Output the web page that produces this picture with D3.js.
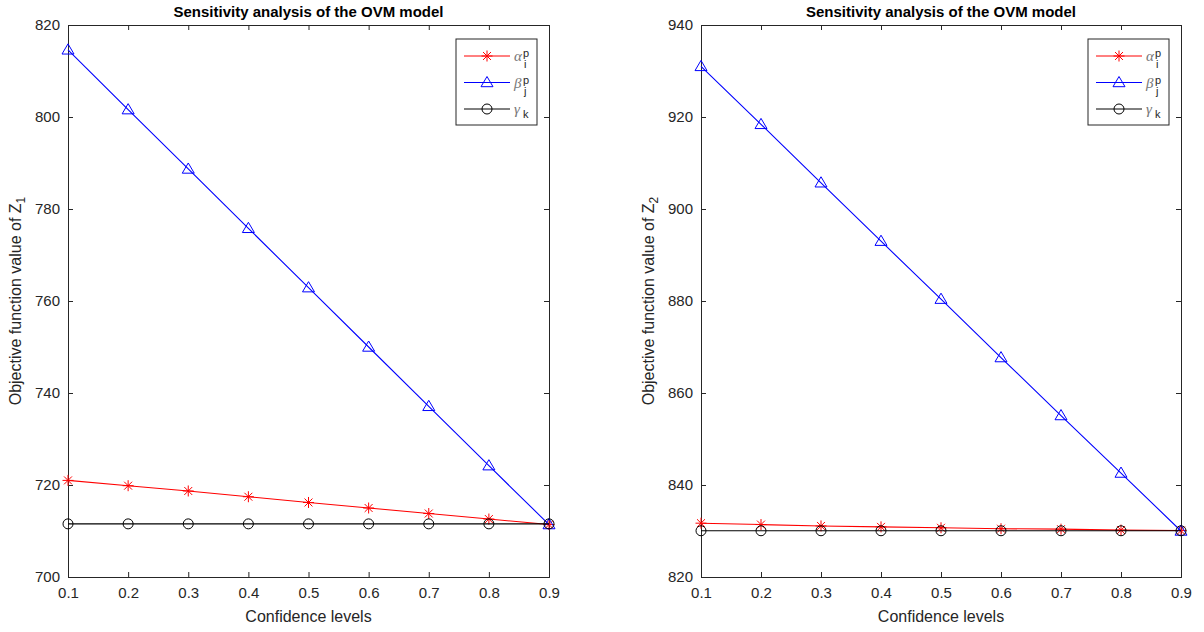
<!DOCTYPE html>
<html>
<head>
<meta charset="utf-8">
<script src="https://cdn.jsdelivr.net/npm/d3@7"></script>
<style>
  body { margin: 0; background: #fff; }
  text { font-family: "Liberation Sans", Arial, sans-serif; }
</style>
</head>
<body>
<div id="chart"></div>
<script>
// confidence levels on the x axis
const levels = [0.1, 0.2, 0.3, 0.4, 0.5, 0.6, 0.7, 0.8, 0.9];

// Z1 series
const alphaZ1 = [721.0, 719.85, 718.7, 717.45, 716.2, 715.0, 713.8, 712.6, 711.4];
const betaZ1  = [814.6, 801.6, 788.7, 775.8, 762.9, 750.0, 737.1, 724.2, 711.4];
const gammaZ1 = [711.55, 711.55, 711.55, 711.55, 711.55, 711.55, 711.55, 711.55, 711.55];

// Z2 series
const alphaZ2 = [831.7, 831.4, 831.1, 830.9, 830.7, 830.5, 830.4, 830.2, 830.1];
const betaZ2  = [931.0, 918.4, 905.7, 893.0, 880.4, 867.7, 855.1, 842.6, 830.0];
const gammaZ2 = [830.05, 830.05, 830.05, 830.05, 830.05, 830.05, 830.05, 830.05, 830.05];

const yTicksZ1 = [700, 720, 740, 760, 780, 800, 820];
const yTicksZ2 = [820, 840, 860, 880, 900, 920, 940];

const W = 1204, H = 632;
const axisColor = "#262626";

const svg = d3.select("#chart").append("svg")
    .attr("width", W).attr("height", H);

const panels = [
  {x0: 68, x1: 549, sub: "1", ticks: yTicksZ1, series: [alphaZ1, betaZ1, gammaZ1]},
  {x0: 701, x1: 1181, sub: "2", ticks: yTicksZ2, series: [alphaZ2, betaZ2, gammaZ2]}
];
const plotTop = 25, plotBottom = 577;

const styles = [
  {color: "#ff0000", marker: "star"},
  {color: "#0000ff", marker: "tri"},
  {color: "#000000", marker: "circle"}
];

function drawMarker(g, type, color, cx, cy) {
  if (type === "star") {
    const s = 5.5, d = s * 0.72;
    const p = `M${cx - s},${cy}L${cx + s},${cy}M${cx},${cy - s}L${cx},${cy + s}` +
              `M${cx - d},${cy - d}L${cx + d},${cy + d}M${cx - d},${cy + d}L${cx + d},${cy - d}`;
    g.append("path").attr("d", p).attr("stroke", color).attr("stroke-width", 1).attr("fill", "none");
  } else if (type === "tri") {
    const s = 6;
    g.append("path")
      .attr("d", `M${cx},${cy - s}L${cx + s},${cy + s * 0.7}L${cx - s},${cy + s * 0.7}Z`)
      .attr("stroke", color).attr("stroke-width", 1).attr("fill", "none");
  } else {
    g.append("circle").attr("cx", cx).attr("cy", cy).attr("r", 5)
      .attr("stroke", color).attr("stroke-width", 1).attr("fill", "none");
  }
}

panels.forEach(p => {
  const x = d3.scaleLinear().domain([0.1, 0.9]).range([p.x0, p.x1]);
  const y = d3.scaleLinear().domain([p.ticks[0], p.ticks[p.ticks.length - 1]]).range([plotBottom, plotTop]);
  const g = svg.append("g");

  // axes (MATLAB style box with inward ticks)
  const fmtX = d3.format(".1f");
  const xAxisB = d3.axisBottom(x).tickValues(levels).tickSize(-5).tickPadding(10).tickFormat(fmtX);
  const xAxisT = d3.axisTop(x).tickValues(levels).tickSize(-5).tickFormat("");
  const yAxisL = d3.axisLeft(y).tickValues(p.ticks).tickSize(-5).tickPadding(8).tickFormat(d3.format("d"));
  const yAxisR = d3.axisRight(y).tickValues(p.ticks).tickSize(-5).tickFormat("");

  [[xAxisB, `translate(0,${plotBottom})`], [xAxisT, `translate(0,${plotTop})`],
   [yAxisL, `translate(${p.x0},0)`], [yAxisR, `translate(${p.x1},0)`]].forEach(([ax, tr]) => {
    const a = g.append("g").attr("transform", tr).call(ax);
    a.select(".domain").attr("stroke", axisColor);
    a.selectAll(".tick line").attr("stroke", axisColor);
    a.selectAll(".tick text").attr("fill", axisColor).style("font-size", "15px")
      .style("font-family", "'Liberation Sans', Arial, sans-serif");
  });

  // lines + markers
  const line = d3.line().x((d, i) => x(levels[i])).y(d => y(d));
  p.series.forEach((vals, k) => {
    const st = styles[k];
    g.append("path").datum(vals).attr("d", line)
      .attr("fill", "none").attr("stroke", st.color).attr("stroke-width", 1.1);
    vals.forEach((v, i) => drawMarker(g, st.marker, st.color, x(levels[i]), y(v)));
  });

  // title
  g.append("text").attr("x", (p.x0 + p.x1) / 2).attr("y", 17)
    .attr("text-anchor", "middle").attr("font-weight", "bold")
    .attr("font-size", 15).attr("fill", "#000")
    .text("Sensitivity analysis of the OVM model");

  // x label
  g.append("text").attr("x", (p.x0 + p.x1) / 2).attr("y", 622)
    .attr("text-anchor", "middle").attr("font-size", 16).attr("fill", axisColor)
    .text("Confidence levels");

  // y label
  const yl = g.append("text")
    .attr("transform", `translate(${p.x0 - 47},${(plotTop + plotBottom) / 2}) rotate(-90)`)
    .attr("text-anchor", "middle").attr("font-size", 16).attr("fill", axisColor);
  yl.append("tspan").text("Objective function value of Z");
  yl.append("tspan").attr("dy", 4).attr("font-size", 12).text(p.sub);

  // legend
  const lx = p.x1 - 93, ly = 39;
  const leg = g.append("g");
  leg.append("rect").attr("x", lx).attr("y", ly).attr("width", 81).attr("height", 86)
    .attr("fill", "#fff").attr("stroke", axisColor).attr("stroke-width", 1);
  const labels = [["α", "p", "i"], ["β", "p", "j"], ["γ", null, "k"]];
  labels.forEach((lab, k) => {
    const ry = ly + 17 + k * 26.5;
    const st = styles[k];
    leg.append("line").attr("x1", lx + 8).attr("x2", lx + 54).attr("y1", ry).attr("y2", ry)
      .attr("stroke", st.color).attr("stroke-width", 1);
    drawMarker(leg, st.marker, st.color, lx + 31, ry);
    const tx = lx + 58;
    leg.append("text").attr("x", tx).attr("y", ry + 5)
      .style("font-family", "'Liberation Serif', 'DejaVu Serif', serif")
      .style("font-size", "15px").style("font-style", "italic")
      .attr("fill", "#777").text(lab[0]);
    if (lab[1]) {
      leg.append("text").attr("x", tx + 9).attr("y", ry + 1).attr("font-size", 11)
        .attr("fill", axisColor).text(lab[1]);
    }
    leg.append("text").attr("x", tx + (lab[1] ? 10 : 9)).attr("y", ry + (lab[1] ? 12 : 9)).attr("font-size", 11)
      .attr("fill", axisColor).text(lab[2]);
  });
});
</script>
</body>
</html>
